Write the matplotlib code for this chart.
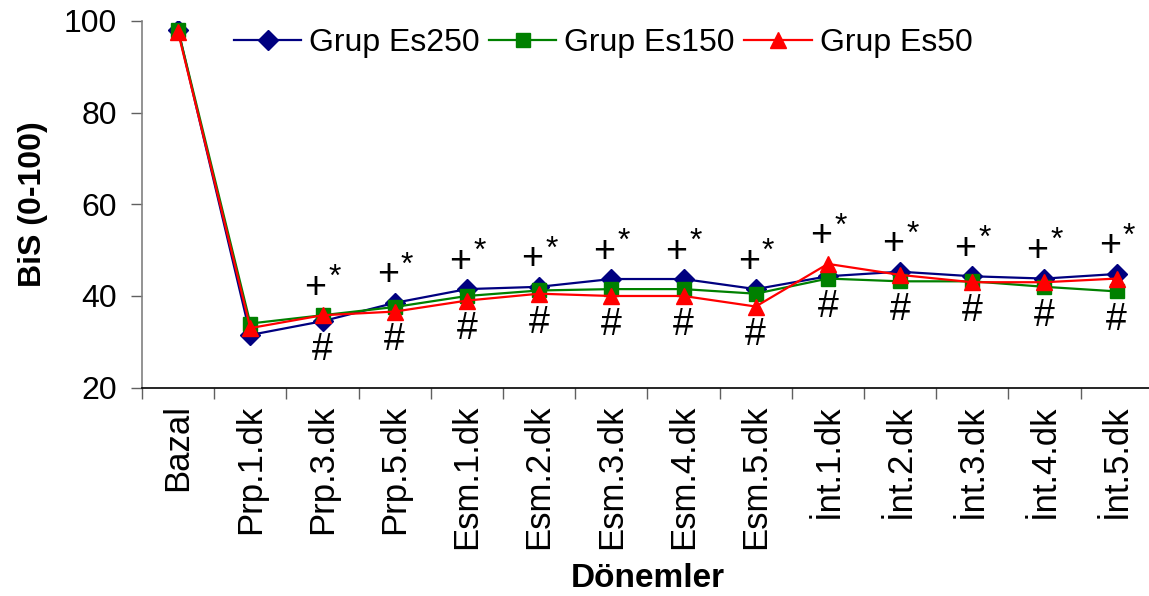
import matplotlib
matplotlib.use("Agg")
import matplotlib.pyplot as plt

plt.rcParams['font.family'] = ['Liberation Sans', 'DejaVu Sans']

periods = ['Bazal', 'Prp.1.dk', 'Prp.3.dk', 'Prp.5.dk', 'Esm.1.dk', 'Esm.2.dk',
           'Esm.3.dk', 'Esm.4.dk', 'Esm.5.dk', 'İnt.1.dk', 'İnt.2.dk',
           'İnt.3.dk', 'İnt.4.dk', 'İnt.5.dk']

es250 = [98.0, 31.5, 34.5, 38.5, 41.5, 42.0, 43.7, 43.7, 41.5, 44.3, 45.3, 44.3, 43.8, 44.8]
es150 = [98.0, 34.0, 35.8, 37.6, 40.0, 41.2, 41.5, 41.5, 40.5, 43.8, 43.2, 43.2, 42.0, 41.0]
es50 = [97.5, 33.0, 35.8, 36.6, 39.0, 40.5, 40.0, 40.0, 37.7, 47.0, 44.6, 43.0, 43.0, 43.8]

# which periods carry the significance marks ("+*" above, "#" below)
marked = periods[2:]

fig = plt.figure(figsize=(11.49, 5.96), dpi=100)
ax = fig.add_axes([0.1236, 0.3495, 0.8797, 0.6155])

x = list(range(len(periods)))
ax.plot(x, es250, color='#000080', lw=1.6, marker='D', ms=10, label='Grup Es250', zorder=3)
ax.plot(x, es150, color='#008000', lw=1.6, marker='s', ms=9.5, label='Grup Es150', zorder=4)
ax.plot(x, es50, color='#ff0000', lw=1.6, marker='^', ms=12, label='Grup Es50', zorder=5)

for i, name in enumerate(periods):
    if name not in marked:
        continue
    top = max(es250[i], es150[i], es50[i])
    low = min(es250[i], es150[i], es50[i])
    ax.annotate('+', (i, top + 6), xytext=(-5, 0), textcoords='offset points',
                ha='center', va='center', fontsize=27)
    ax.annotate('*', (i, top + 6), xytext=(9, 7), textcoords='offset points',
                ha='center', va='center', fontsize=23)
    ax.annotate('#', (i, low - 6.3), ha='center', va='center', fontsize=27)

ax.set_xlim(-0.5, len(periods) - 0.5)
ax.set_ylim(20, 100)
ax.set_yticks([20, 40, 60, 80, 100])
ax.set_xticks(x)
ax.set_xticklabels(periods, rotation=90, fontsize=25)
ax.set_xticks([i - 0.5 for i in range(len(periods) + 1)], minor=True)
ax.tick_params(axis='x', which='major', length=0, pad=12)
ax.tick_params(axis='x', which='minor', length=8, width=1, color='#606060')
ax.tick_params(axis='y', length=8, width=1, color='#606060', labelsize=23, pad=10)

ax.spines['top'].set_visible(False)
ax.spines['right'].set_visible(False)
ax.spines['left'].set_color('#808080')
ax.spines['left'].set_linewidth(1.2)
ax.spines['bottom'].set_color('black')
ax.spines['bottom'].set_linewidth(1.2)

ax.set_ylabel('BiS (0-100)', fontsize=23, fontweight='bold', labelpad=11)
ax.set_xlabel('Dönemler', fontsize=24, fontweight='bold', labelpad=10)

ax.legend(loc='upper left', bbox_to_anchor=(0.187, 0.985), bbox_transform=fig.transFigure,
          ncol=3, frameon=False, fontsize=23, handlelength=2.1, handletextpad=0.25,
          columnspacing=0.3, borderaxespad=0.2)

fig.savefig('out.png', dpi=100)
